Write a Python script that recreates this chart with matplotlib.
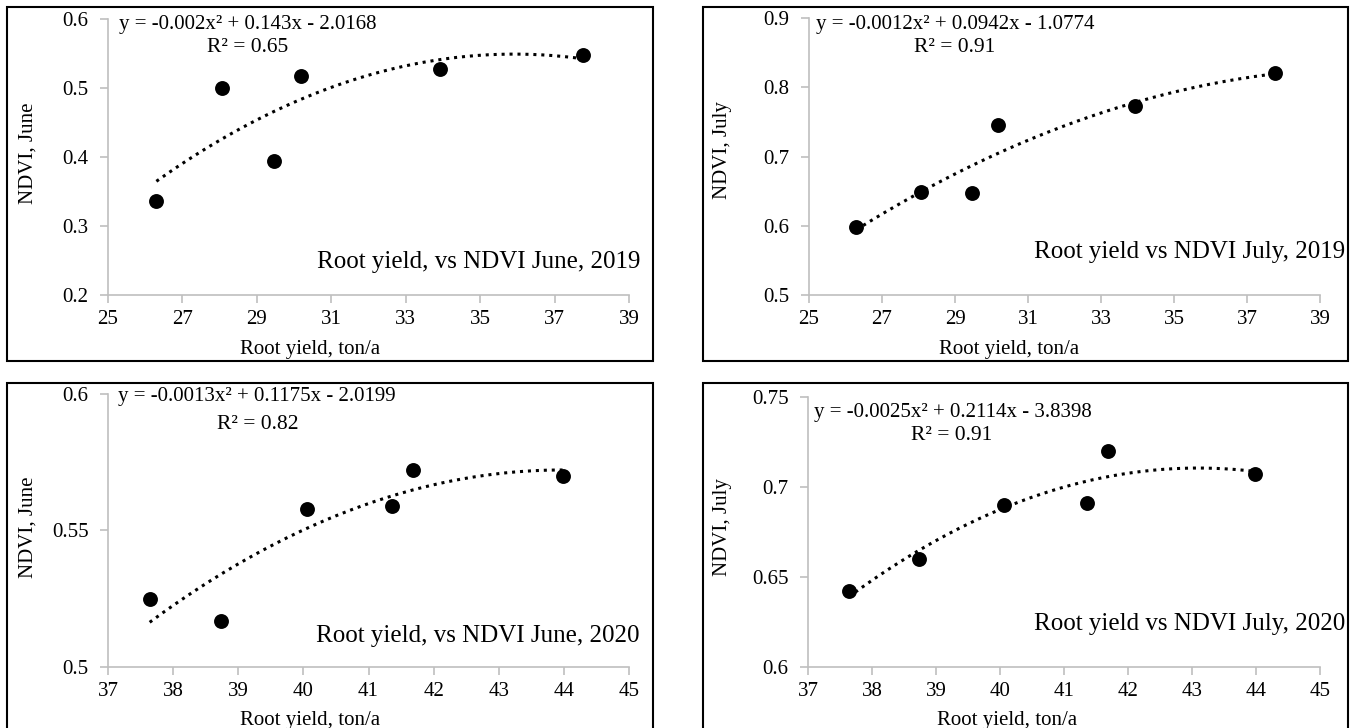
import numpy as np
import matplotlib
matplotlib.use("Agg")
import matplotlib.pyplot as plt
from matplotlib.patches import Rectangle

plt.rcParams['font.family'] = ['Liberation Serif', 'DejaVu Serif']

# ---- data ----
yield_2019 = [26.30, 28.06, 29.46, 30.18, 33.93, 37.76]
ndvi_june_2019 = [0.336, 0.500, 0.394, 0.518, 0.528, 0.548]
ndvi_july_2019 = [0.598, 0.649, 0.647, 0.745, 0.773, 0.820]

yield_2020 = [37.64, 38.74, 40.06, 41.36, 41.68, 43.98]
ndvi_june_2020 = [0.525, 0.517, 0.558, 0.559, 0.572, 0.570]
ndvi_july_2020 = [0.642, 0.660, 0.690, 0.691, 0.720, 0.707]

xticks_2019 = [25, 27, 29, 31, 33, 35, 37, 39]
xticks_2020 = [37, 38, 39, 40, 41, 42, 43, 44, 45]
yticks_june_2019 = [0.2, 0.3, 0.4, 0.5, 0.6]
yticks_july_2019 = [0.5, 0.6, 0.7, 0.8, 0.9]
yticks_june_2020 = [0.5, 0.55, 0.6]
yticks_july_2020 = [0.6, 0.65, 0.7, 0.75]

eq_lines = ["y = -0.002x² + 0.143x - 2.0168",
            "y = -0.0012x² + 0.0942x - 1.0774",
            "y = -0.0013x² + 0.1175x - 2.0199",
            "y = -0.0025x² + 0.2114x - 3.8398"]
r2_lines = ["R² = 0.65", "R² = 0.91", "R² = 0.82", "R² = 0.91"]
titles = ["Root yield, vs NDVI June, 2019", "Root yield vs NDVI July, 2019",
          "Root yield, vs NDVI June, 2020", "Root yield vs NDVI July, 2020"]
ylabels = ["NDVI, June", "NDVI, July", "NDVI, June", "NDVI, July"]
xlabel = "Root yield, ton/a"

W, H = 1352, 728
fig = plt.figure(figsize=(W / 100, H / 100), dpi=100)

def fx(x):
    return x / W

def fy(y):
    return 1 - y / H

panels = [
    dict(x=yield_2019, y=ndvi_june_2019, xt=xticks_2019, yt=yticks_june_2019,
         ax=(108, 19, 629, 295), frame=(7, 7, 653, 361),
         eq=(248, 24), r2=(248, 47), title=(640, 262), xl=(310, 349), yl=(28, 153)),
    dict(x=yield_2019, y=ndvi_july_2019, xt=xticks_2019, yt=yticks_july_2019,
         ax=(809, 18, 1320, 295), frame=(703, 7, 1348, 361),
         eq=(955, 24), r2=(955, 48), title=(1345, 252), xl=(1009, 349), yl=(723, 150)),
    dict(x=yield_2020, y=ndvi_june_2020, xt=xticks_2020, yt=yticks_june_2020,
         ax=(108, 394, 629, 667), frame=(7, 383, 653, 740),
         eq=(257, 397), r2=(258, 424), title=(640, 636), xl=(310, 721), yl=(28, 527)),
    dict(x=yield_2020, y=ndvi_july_2020, xt=xticks_2020, yt=yticks_july_2020,
         ax=(808, 397, 1320, 667), frame=(703, 383, 1348, 740),
         eq=(953, 412), r2=(952, 435), title=(1345, 624), xl=(1007, 721), yl=(723, 527)),
]

gray = '#BFBFBF'
for i, p in enumerate(panels):
    l, t, r, b = p['ax']
    ax = fig.add_axes([fx(l), fy(b), fx(r) - fx(l), fy(t) - fy(b)])
    xs = np.array(p['x'])
    ys = np.array(p['y'])
    ax.scatter(xs, ys, s=115, color='black', zorder=3, linewidths=0)
    coef = np.polyfit(xs, ys, 2)
    xx = np.linspace(xs.min(), xs.max(), 200)
    ax.plot(xx, np.polyval(coef, xx), color='black', linestyle=(0, (1, 1.6)),
            linewidth=2.2, zorder=2)
    ax.set_xlim(p['xt'][0], p['xt'][-1])
    ax.set_ylim(p['yt'][0], p['yt'][-1])
    ax.set_xticks(p['xt'])
    ax.set_yticks(p['yt'])
    ax.set_yticklabels(["{:g}".format(v) for v in p['yt']])
    for s in ['top', 'right']:
        ax.spines[s].set_visible(False)
    for s in ['left', 'bottom']:
        ax.spines[s].set_color(gray)
        ax.spines[s].set_linewidth(1.2)
    ax.tick_params(axis='both', direction='out', length=6, width=1.2, color=gray,
                   labelsize=15, labelcolor='black')
    ax.tick_params(axis='x', pad=5)
    ax.tick_params(axis='y', pad=8)
    ax.patch.set_alpha(0)

    ax.set_xlabel(xlabel, fontsize=15)
    ax.xaxis.set_label_coords(fx(p['xl'][0]), fy(p['xl'][1]), transform=fig.transFigure)
    ax.xaxis.label.set_va('center')
    ax.set_ylabel(ylabels[i], fontsize=15)
    ax.yaxis.set_label_coords(fx(p['yl'][0]), fy(p['yl'][1]), transform=fig.transFigure)
    ax.yaxis.label.set_va('center')

    fig.text(fx(p['eq'][0]), fy(p['eq'][1]), eq_lines[i], ha='center', va='center',
             fontsize=15)
    fig.text(fx(p['r2'][0]), fy(p['r2'][1]), r2_lines[i], ha='center', va='center',
             fontsize=15.5)
    fig.text(fx(p['title'][0]), fy(p['title'][1]), titles[i], ha='right', va='center',
             fontsize=18)

    fl, ft, fr, fb = p['frame']
    fig.patches.append(Rectangle((fx(fl), fy(fb)), fx(fr) - fx(fl), fy(ft) - fy(fb),
                                 transform=fig.transFigure, fill=False,
                                 edgecolor='black', linewidth=1.5, zorder=0))

fig.savefig('out.png', dpi=100, facecolor='white')
